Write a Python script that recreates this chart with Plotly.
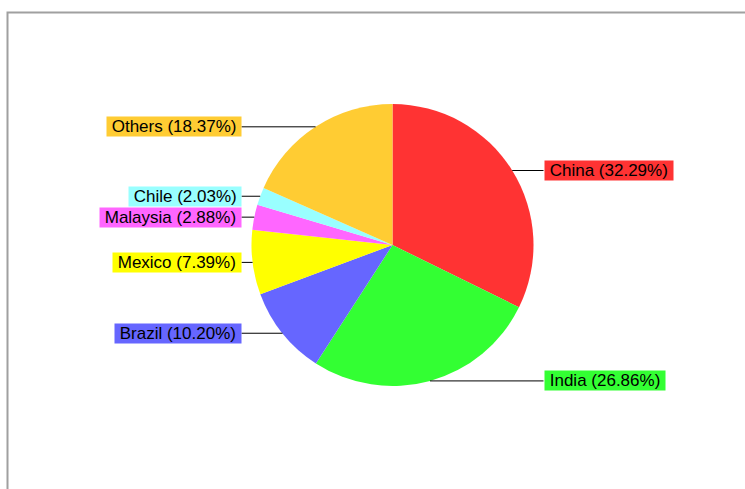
import math
import plotly.graph_objects as go

# Share by country
countries = ["China", "India", "Brazil", "Mexico", "Malaysia", "Chile", "Others"]
shares = [32.29, 26.86, 10.20, 7.39, 2.88, 2.03, 18.37]
colors = ["#FF3333", "#33FF33", "#6666FF", "#FFFF00", "#FF66FF", "#99FFFF", "#FFCC33"]

W, H = 745, 489
CX, CY, R = 392.5, 245.0, 141.0      # pie centre and radius in pixels
LABEL_GAP = 151.0                    # horizontal distance from centre to label boxes
FONT = dict(family="Liberation Sans, Arial, sans-serif", size=17, color="#000000")


def px_x(x):
    return x / W


def px_y(y):
    return 1 - y / H


fig = go.Figure(
    go.Pie(
        labels=countries,
        values=shares,
        marker=dict(colors=colors, line=dict(width=0)),
        sort=False,
        direction="clockwise",
        rotation=0,
        textinfo="none",
        hoverinfo="label+percent",
        showlegend=False,
        domain=dict(
            x=[px_x(CX - R), px_x(CX + R)],
            y=[px_y(CY + R), px_y(CY - R)],
        ),
    )
)

# Labels with leader lines from the middle of each slice's rim
total = sum(shares)
annotations = []
shapes = []
cum = 0.0
for name, val, col in zip(countries, shares, colors):
    mid = (cum + val / 2) / total * 2 * math.pi
    cum += val
    ex = CX + R * math.sin(mid)
    ey = CY - R * math.cos(mid)
    right = math.sin(mid) >= 0
    lx = CX + LABEL_GAP if right else CX - LABEL_GAP
    shapes.append(dict(
        type="line", xref="paper", yref="paper",
        x0=px_x(ex), y0=px_y(ey), x1=px_x(lx), y1=px_y(ey),
        line=dict(color="#000000", width=1),
    ))
    annotations.append(dict(
        xref="paper", yref="paper",
        x=px_x(lx), y=px_y(ey),
        xanchor="left" if right else "right", yanchor="middle",
        text=f"\u00a0{name} ({val:.2f}%)\u00a0",
        showarrow=False,
        font=FONT,
        bgcolor=col,
        borderpad=0,
    ))

# Grey frame along the top and left of the chart
shapes.append(dict(
    type="path", xref="paper", yref="paper",
    path=f"M {px_x(7.5)},{px_y(H + 2)} L {px_x(7.5)},{px_y(12.5)} L {px_x(W + 2)},{px_y(12.5)}",
    line=dict(color="#A0A0A0", width=2),
))

fig.update_layout(
    width=W,
    height=H,
    margin=dict(l=0, r=0, t=0, b=0),
    paper_bgcolor="#FFFFFF",
    plot_bgcolor="#FFFFFF",
    annotations=annotations,
    shapes=shapes,
)

fig.write_html("out.html")
